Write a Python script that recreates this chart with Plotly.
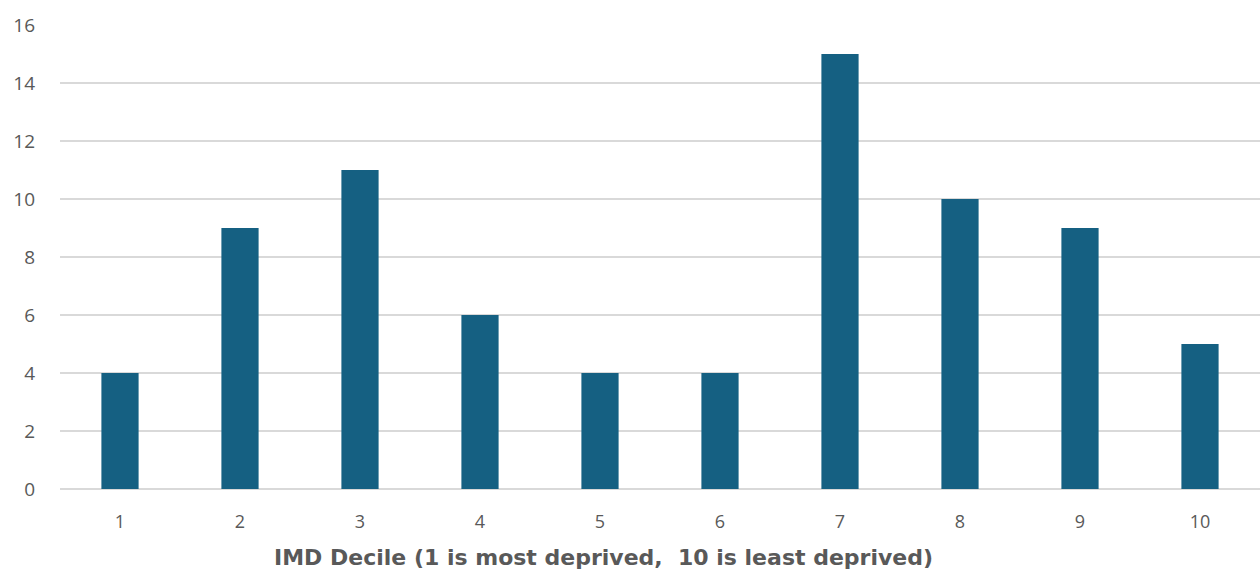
import plotly.graph_objects as go

deciles = ["1", "2", "3", "4", "5", "6", "7", "8", "9", "10"]
counts = [4, 9, 11, 6, 4, 4, 15, 10, 9, 5]
y_ticks = [0, 2, 4, 6, 8, 10, 12, 14, 16]
x_title = "IMD Decile (1 is most deprived,  10 is least deprived)"

fig = go.Figure(
    go.Bar(x=deciles, y=counts, marker=dict(color="#156082", line=dict(width=0)))
)

fig.update_layout(
    width=1260,
    height=571,
    margin=dict(l=60, r=0, t=25, b=82),
    plot_bgcolor="white",
    paper_bgcolor="white",
    bargap=0.69,
    showlegend=False,
    font=dict(family="Open Sans, sans-serif", color="#595959", size=18),
)

# axis title placed as an annotation so it can sit slightly left of centre
fig.add_annotation(
    text=f"<b>{x_title}</b>",
    xref="paper",
    yref="paper",
    x=0.4525,
    y=-0.1466,
    xanchor="center",
    yanchor="middle",
    showarrow=False,
    font=dict(family="DejaVu Sans, sans-serif", size=22, color="#595959"),
)

fig.update_xaxes(
    type="category",
    showgrid=False,
    showline=False,
    ticks="",
    ticklabelstandoff=20,
    tickfont=dict(size=18, color="#595959"),
)

fig.update_yaxes(
    range=[0, 16],
    tickvals=y_ticks,
    showgrid=True,
    gridcolor="#d9d9d9",
    gridwidth=1.5,
    zeroline=True,
    zerolinecolor="#d9d9d9",
    zerolinewidth=1.5,
    showline=False,
    ticks="",
    ticklabelstandoff=24,
    tickfont=dict(size=19, color="#595959"),
)

fig.write_html("out.html")
